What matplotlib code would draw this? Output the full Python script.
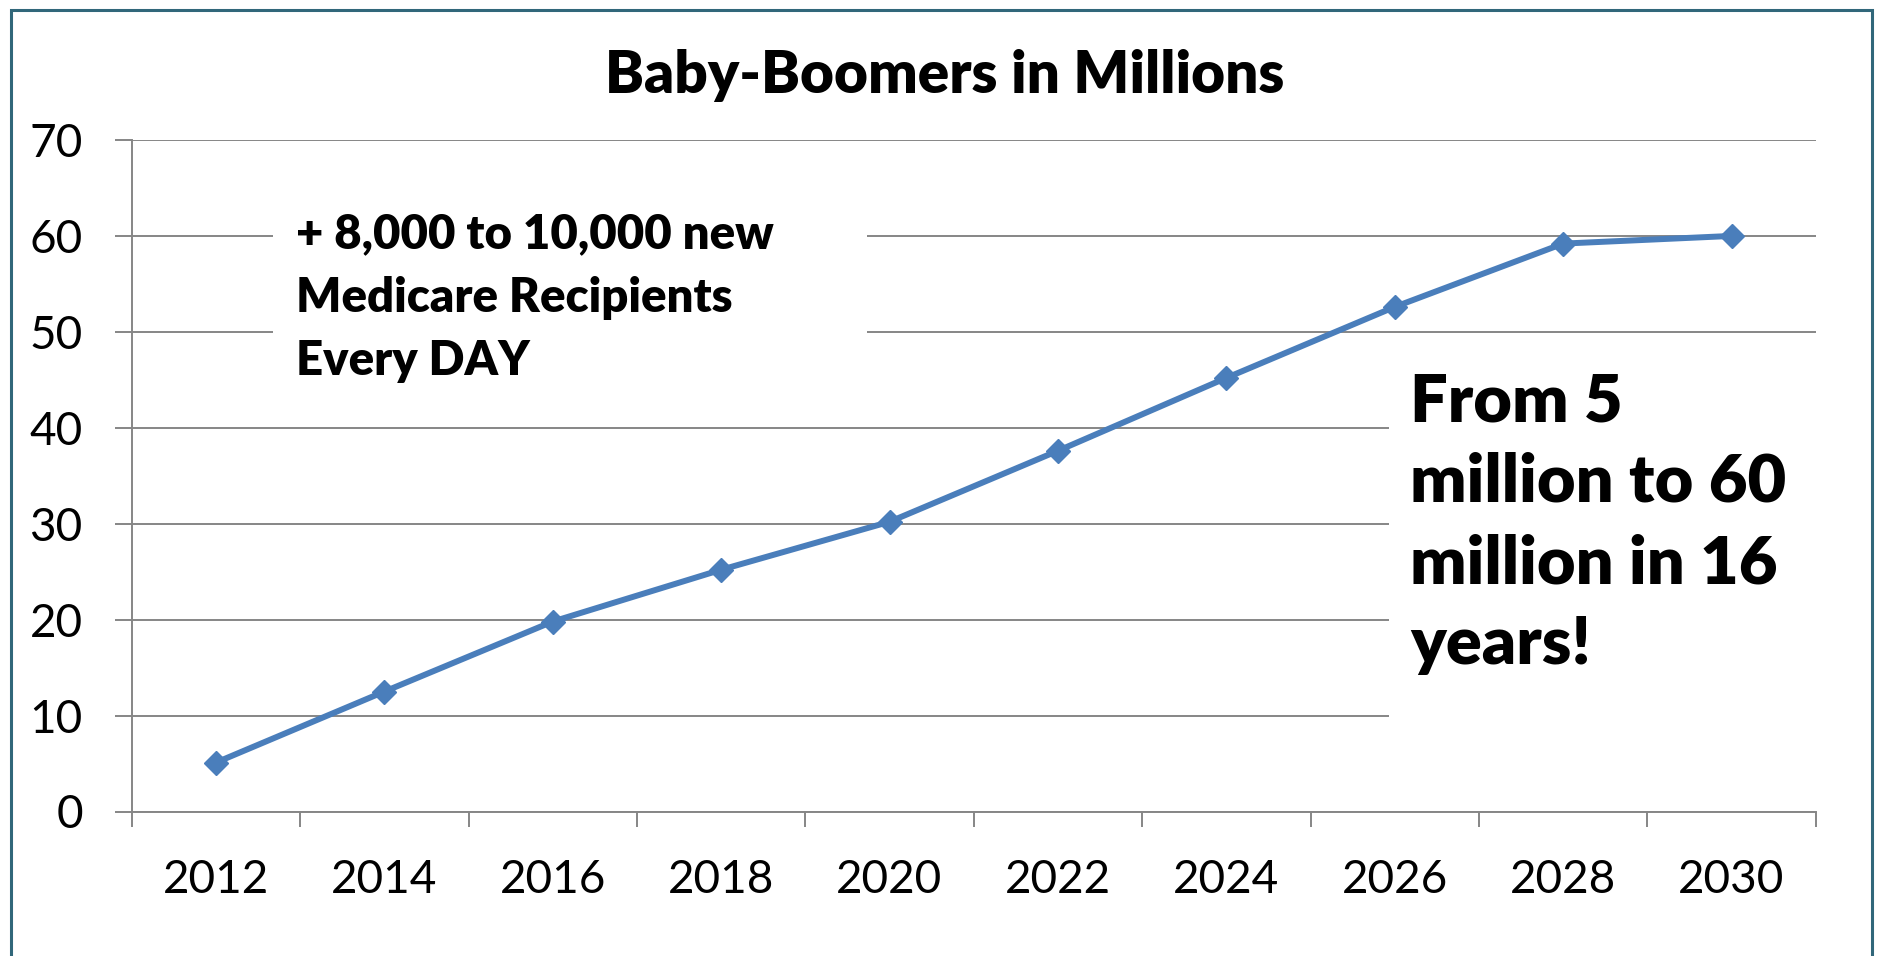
import matplotlib.pyplot as plt
from matplotlib.patches import Rectangle

plt.rcParams['font.family'] = ['Lato', 'DejaVu Sans']

years = ['2012', '2014', '2016', '2018', '2020', '2022', '2024', '2026', '2028', '2030']
boomers = [5.1, 12.5, 19.8, 25.2, 30.2, 37.6, 45.2, 52.6, 59.2, 60.0]
yticks = [0, 10, 20, 30, 40, 50, 60, 70]
title = 'Baby-Boomers in Millions'
note1 = ['+ 8,000 to 10,000 new', 'Medicare Recipients', 'Every DAY']
note2 = ['From 5', 'million to 60', 'million in 16', 'years!']

W, H = 1877, 956
fx = lambda p: p / W
fy = lambda p: 1 - p / H

fig = plt.figure(figsize=(W / 100, H / 100), dpi=100)
ax = fig.add_axes([fx(131.7), fy(811.5), fx(1815.7) - fx(131.7), fy(140) - fy(811.5)])

grey = '#868686'
x = list(range(len(years)))
ax.plot(x, boomers, color='#4A7EBB', lw=4.3, marker='D', markersize=12, zorder=5)

ax.set_xlim(-0.5, len(years) - 0.5)
ax.set_ylim(0, 70)
ax.set_yticks(yticks)
ax.set_xticks([i - 0.5 for i in range(len(years) + 1)])
ax.set_xticklabels([])
ax.set_xticks(x, minor=True)
ax.set_xticklabels(years, minor=True)
ax.tick_params(axis='x', which='major', direction='out', length=10.8, width=1.4, color=grey)
ax.tick_params(axis='x', which='minor', length=0, pad=34, labelsize=33)
ax.tick_params(axis='y', direction='out', length=12.2, width=1.4, color=grey, pad=23, labelsize=33)
ax.grid(axis='y', color=grey, lw=1.4, zorder=0)
ax.set_axisbelow(True)
for s in ['top', 'right']:
    ax.spines[s].set_visible(False)
for s in ['left', 'bottom']:
    ax.spines[s].set_color(grey)
    ax.spines[s].set_linewidth(1.4)

# white text boxes hiding the gridlines
for (x0, y0, x1, y1) in [(273, 215, 867, 395), (1389, 345, 1830, 770)]:
    fig.add_artist(Rectangle((fx(x0), fy(y1)), fx(x1) - fx(x0), fy(y0) - fy(y1),
                             transform=fig.transFigure, facecolor='white',
                             edgecolor='none', zorder=3))

fig.text(fx(945), fy(93), title, ha='center', va='baseline', fontsize=42, fontweight='heavy')
for i, line in enumerate(note1):
    fig.text(fx(296), fy(248 + 63.5 * i), line, va='baseline', fontsize=34, fontweight='heavy', zorder=4)
for i, line in enumerate(note2):
    fig.text(fx(1410), fy(421 + 81 * i), line, va='baseline', fontsize=48, fontweight='heavy', zorder=4)

# chart border
fig.add_artist(Rectangle((fx(10.5), fy(1000)), fx(1872) - fx(10.5), fy(9.5) - fy(1000),
                         transform=fig.transFigure, facecolor='none',
                         edgecolor='#31677A', lw=2.2, zorder=10))

plt.savefig('out.png', dpi=100)
